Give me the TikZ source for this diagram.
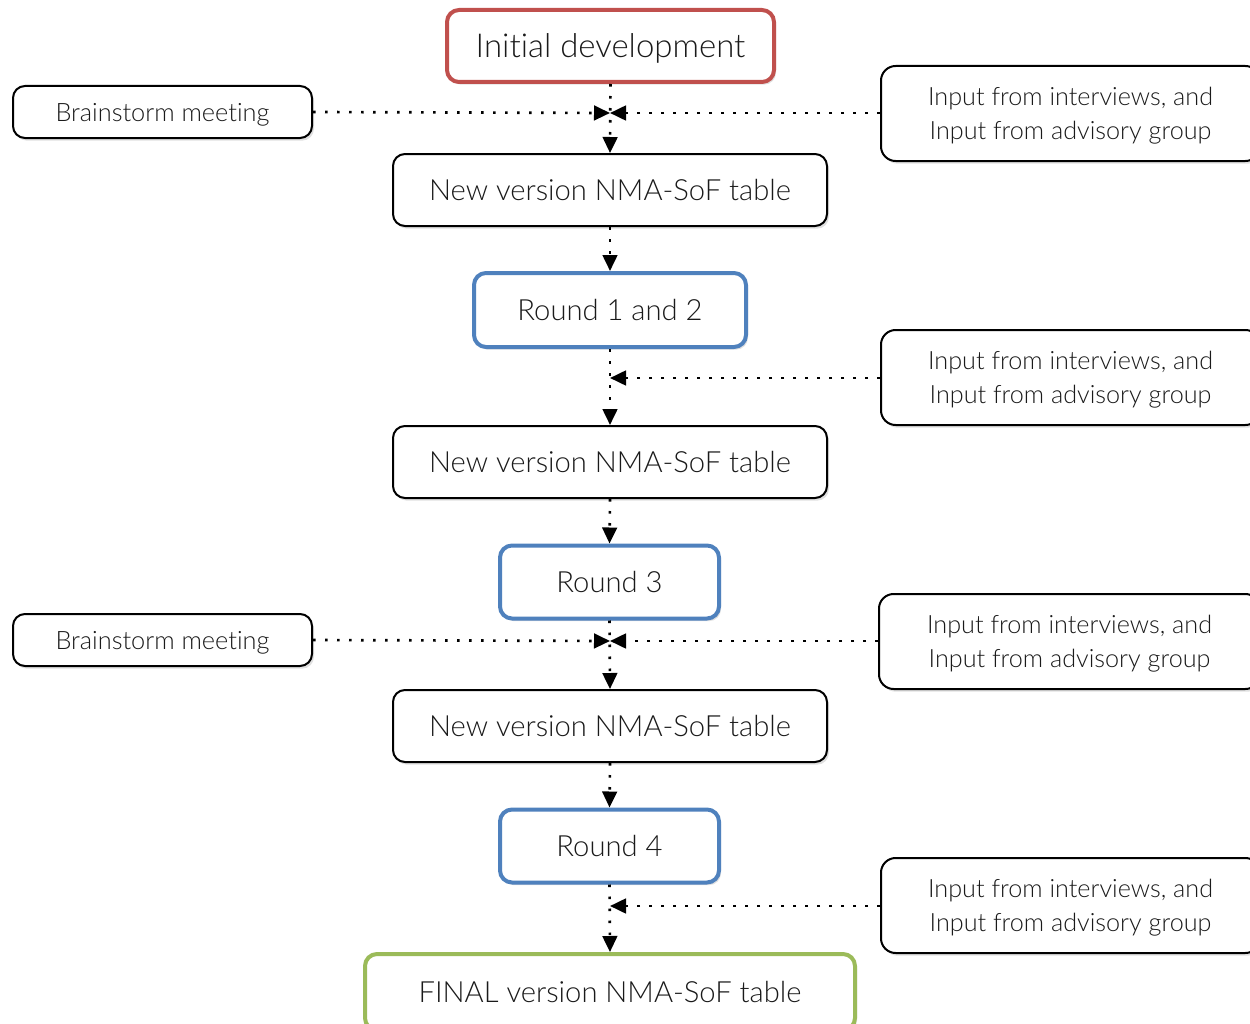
\documentclass[tikz,border=0pt]{standalone}
\usepackage{fontspec}
\setmainfont{Lato}[UprightFont={* Light},Ligatures={NoCommon}]
\usetikzlibrary{arrows.meta,shadows}
\definecolor{cred}{HTML}{C0504D}
\definecolor{cblue}{HTML}{4F81BD}
\definecolor{cgreen}{HTML}{9BBB59}
\definecolor{ctext}{HTML}{1A1A1A}
\tikzset{
  x=0.75pt,y=-0.75pt,
  basebox/.style={draw, fill=white, align=center, text=ctext, inner sep=0pt, text depth=0pt,
    drop shadow={shadow xshift=1.5pt, shadow yshift=-2pt, opacity=0.12, fill=black}},
  thinbox/.style={basebox, line width=1.5pt, rounded corners=9pt},
  colbox/.style={basebox, line width=3pt, rounded corners=9pt},
  inittxt/.style={font=\fontsize{24.7}{29}\selectfont},
  bigtxt/.style={font=\fontsize{21.9}{27}\selectfont},
  midtxt/.style={font=\fontsize{19}{25.5}\selectfont},
  smalltxt/.style={font=\fontsize{18.9}{25.5}\selectfont},
  dotline/.style={line width=2pt, dash pattern=on 2pt off 7pt,
    -{Triangle[length=12pt,width=11pt]}, shorten >=0pt},
}
\begin{document}
\begin{tikzpicture}
\useasboundingbox (0,0) rectangle (1250,1024);
% main column
\node[colbox, draw=cred, inittxt, minimum width=245.25pt, minimum height=54pt] (init) at (610.5,46) {Initial development};
\node[thinbox, bigtxt, minimum width=325.5pt, minimum height=54pt] (nv1) at (610,190) {New version NMA-SoF table};
\node[colbox, draw=cblue, bigtxt, minimum width=204pt, minimum height=55.5pt] (r12) at (610,310) {Round 1 and 2};
\node[thinbox, bigtxt, minimum width=325.5pt, minimum height=54pt] (nv2) at (610,462) {New version NMA-SoF table};
\node[colbox, draw=cblue, bigtxt, minimum width=164.25pt, minimum height=54.75pt] (r3) at (609.5,582) {Round 3};
\node[thinbox, bigtxt, minimum width=325.5pt, minimum height=54pt] (nv3) at (610,726) {New version NMA-SoF table};
\node[colbox, draw=cblue, bigtxt, minimum width=164.25pt, minimum height=54.75pt] (r4) at (609.5,846) {Round 4};
\node[colbox, draw=cgreen, bigtxt, minimum width=367.5pt, minimum height=57pt] (fin) at (610,992) {FINAL version NMA-SoF table};
% side boxes
\node[thinbox, midtxt, minimum width=224.25pt, minimum height=39pt] (bs1) at (162.5,112) {Brainstorm meeting};
\node[thinbox, midtxt, minimum width=224.25pt, minimum height=39pt] (bs2) at (162.5,640) {Brainstorm meeting};
\node[thinbox, smalltxt, rounded corners=11pt, minimum width=284.25pt, minimum height=71.25pt] (in1) at (1070.5,113.5) {Input from interviews, and\\Input from advisory group};
\node[thinbox, smalltxt, rounded corners=11pt, minimum width=284.25pt, minimum height=71.25pt] (in2) at (1070.5,377.5) {Input from interviews, and\\Input from advisory group};
\node[thinbox, smalltxt, rounded corners=11pt, minimum width=285.75pt, minimum height=71.25pt] (in3) at (1069.5,641.5) {Input from interviews, and\\Input from advisory group};
\node[thinbox, smalltxt, rounded corners=11pt, minimum width=284.25pt, minimum height=71.25pt] (in4) at (1070.5,905.5) {Input from interviews, and\\Input from advisory group};
% junctions
\coordinate (j1) at (610,113);
\coordinate (j2) at (610,378);
\coordinate (j3) at (610,641);
\coordinate (j4) at (610,906);
% vertical connectors
\draw[dotline] (init.south) -- (nv1.north);
\draw[dotline] (nv1.south) -- (r12.north);
\draw[dotline] (r12.south) -- (nv2.north);
\draw[dotline] (nv2.south) -- (r3.north);
\draw[dotline] (r3.south) -- (nv3.north);
\draw[dotline] (nv3.south) -- (r4.north);
\draw[dotline] (r4.south) -- (fin.north);
% horizontal connectors
\draw[dotline] (bs1.east) -- (j1);
\draw[dotline] (in1.west |- j1) -- (j1);
\draw[dotline] (in2.west |- j2) -- (j2);
\draw[dotline] (bs2.east) -- (j3);
\draw[dotline] (in3.west |- j3) -- (j3);
\draw[dotline] (in4.west |- j4) -- (j4);
\end{tikzpicture}
\end{document}
